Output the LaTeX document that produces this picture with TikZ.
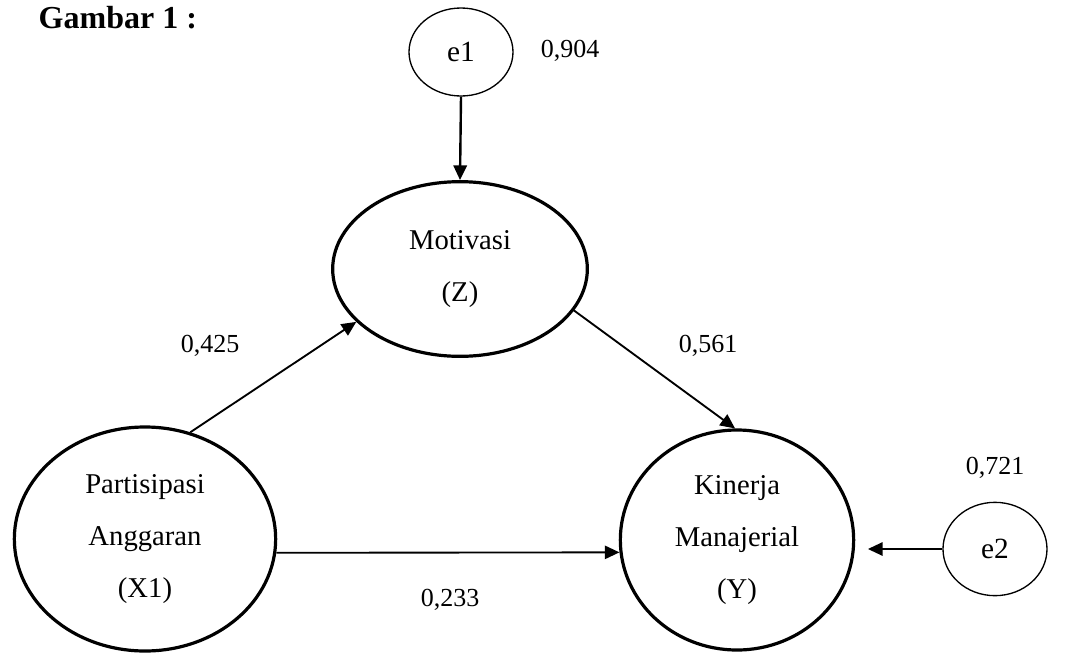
\documentclass[tikz,border=0pt]{standalone}
\usepackage{fontspec}
\setmainfont{Liberation Serif}
\usetikzlibrary{shapes.geometric,arrows.meta}
\begin{document}
\begin{tikzpicture}[x=0.75pt,y=-0.75pt,
  latent/.style={ellipse,draw,line width=2.4pt,align=center,inner sep=0pt,
    font=\fontsize{21.5pt}{39pt}\selectfont},
  errnode/.style={ellipse,draw,line width=1pt,inner sep=0pt,
    font=\fontsize{22pt}{26pt}\selectfont},
  coef/.style={anchor=base,font=\fontsize{19.5pt}{23pt}\selectfont},
  path/.style={line width=1.4pt,-{Triangle[length=11pt,width=10pt]}}]
\useasboundingbox (0,0) rectangle (1068,654);
\node[anchor=base west,font=\fontsize{24pt}{28pt}\selectfont\bfseries] (title) at (34,28) {Gambar 1 :};
\node[errnode,minimum width=78pt,minimum height=66pt] (e1) at (461,52) {e1};
\node[latent,minimum width=191pt,minimum height=131pt] (mot) at (460,269) {Motivasi\\(Z)};
\node[latent,minimum width=196pt,minimum height=168pt] (par) at (145,539) {Partisipasi\\Anggaran\\(X1)};
\node[latent,minimum width=175pt,minimum height=165pt] (kin) at (737,540) {Kinerja\\Manajerial\\(Y)};
\node[errnode,minimum width=78pt,minimum height=70pt] (e2) at (995,549) {e2};
\draw[path,line width=1.8pt] (e1.south) -- (mot.north);
\draw[path] (par.67) -- (mot.207);
\draw[path] (mot.340) -- (kin.91);
\draw[path] (par.-6) -- (kin.186);
\draw[path,shorten >=9.5pt] (e2.west) -- (e2.west -| kin.east);
\node[coef] (c904) at (570,57) {0,904};
\node[coef] (c425) at (210,352) {0,425};
\node[coef] (c561) at (708,352) {0,561};
\node[coef] (c721) at (995,474) {0,721};
\node[coef] (c233) at (450,606) {0,233};
\end{tikzpicture}
\end{document}
